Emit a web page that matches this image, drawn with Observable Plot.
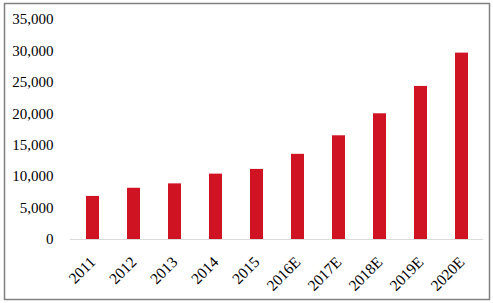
<!DOCTYPE html>
<html>
<head>
<meta charset="utf-8">
<script src="https://cdn.jsdelivr.net/npm/d3@7"></script>
<script src="https://cdn.jsdelivr.net/npm/@observablehq/plot@0.6"></script>
<style>
  html, body { margin: 0; padding: 0; background: #fff; }
  #chart { position: relative; width: 493px; height: 303px; }
</style>
</head>
<body>
<div id="chart"></div>
<script>
const years = ["2011", "2012", "2013", "2014", "2015", "2016E", "2017E", "2018E", "2019E", "2020E"];
const values = [6850, 8150, 8850, 10400, 11150, 13550, 16500, 20000, 24350, 29650];
const yTicks = [0, 5000, 10000, 15000, 20000, 25000, 30000, 35000];

const data = years.map((year, i) => ({ year, value: values[i] }));

const chart = Plot.plot({
  width: 493,
  height: 303,
  marginLeft: 70,
  marginRight: 10,
  marginTop: 19,
  marginBottom: 64,
  style: { fontFamily: "'Liberation Serif', 'Times New Roman', serif", fontSize: "15px", color: "#000", background: "#fff", overflow: "visible" },
  x: { domain: years, paddingInner: 0.69, paddingOuter: 0.35, label: null },
  y: { domain: [0, 35000], label: null },
  marks: [
    Plot.barY(data, { x: "year", y: "value", fill: "#CF1322" }),
    Plot.ruleY([0], { stroke: "#d9d9d9", strokeWidth: 1 }),
    Plot.axisY({ ticks: yTicks, tickSize: 0, tickPadding: 17, tickFormat: d3.format(","), fontSize: 15, label: null }),
    Plot.axisX({ tickSize: 0, tickRotate: -45, tickPadding: 20, fontSize: 15.5, label: null })
  ]
});

d3.select(chart).append("rect")
  .attr("x", 4.5).attr("y", 3.5)
  .attr("width", 485).attr("height", 296)
  .attr("fill", "none").attr("stroke", "#808080").attr("stroke-width", 1.5);

document.getElementById("chart").appendChild(chart);
</script>
</body>
</html>
